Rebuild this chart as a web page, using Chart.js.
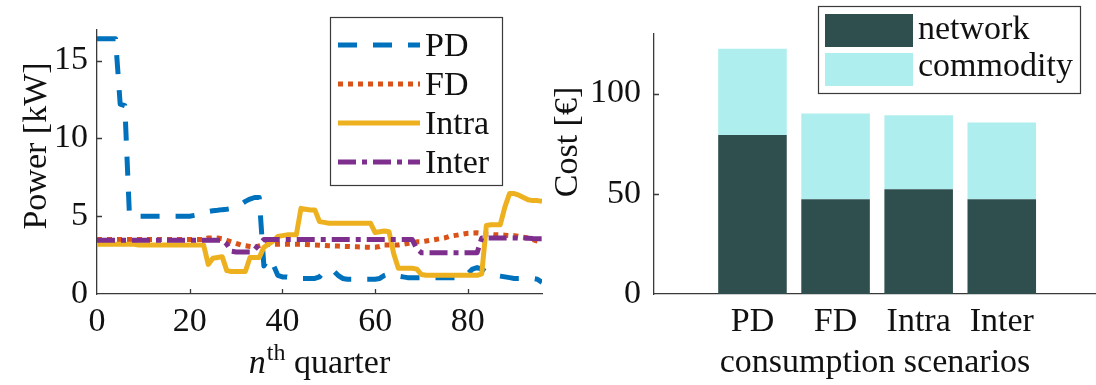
<!DOCTYPE html>
<html><head><meta charset="utf-8">
<script src="https://cdn.jsdelivr.net/npm/chart.js@4.4.1/dist/chart.umd.min.js"></script>
<style>
html,body{margin:0;padding:0;background:#fff;}
#wrap{position:relative;width:1096px;height:385px;overflow:hidden;background:#fff;}
#c1{position:absolute;left:0;top:0;}
#c2{position:absolute;left:530px;top:0;}
</style></head><body>
<div id="wrap"><canvas id="c1" width="560" height="385"></canvas><canvas id="c2" width="566" height="385"></canvas></div>
<script>
// ---------- data ----------
const quarters = [0,1,2,3,4,5,6,7,8,9,10,11,12,13,14,15,16,17,18,19,20,21,22,23,24,25,26,27,28,29,30,31,32,33,34,35,36,37,38,39,40,41,42,43,44,45,46,47,48,49,50,51,52,53,54,55,56,57,58,59,60,61,62,63,64,65,66,67,68,69,70,71,72,73,74,75,76,77,78,79,80,81,82,83,84,85,86,87,88,89,90,91,92,93,94,95,96];
const pdPower = [16.4,16.4,16.4,16.4,16.4,12.2,12.1,5.05,5.0,5.0,5.0,5.0,5.0,5.0,5.0,5.0,5.0,5.0,5.0,5.0,5.0,5.05,5.1,5.2,5.3,5.35,5.38,5.42,5.45,5.5,5.6,5.75,5.95,6.1,6.2,6.2,1.8,2.3,1.9,1.2,1.1,1.1,1.05,1.05,1.0,1.0,1.0,1.0,1.1,1.45,1.5,1.5,1.2,1.0,0.95,0.95,0.95,0.95,0.95,0.95,0.95,1.0,1.2,1.3,1.2,1.15,1.1,1.05,1.05,1.05,1.05,1.05,1.05,1.05,1.05,1.05,1.05,1.05,1.05,1.05,1.3,1.6,1.7,1.6,1.4,1.25,1.2,1.15,1.1,1.05,1.0,1.0,1.0,1.0,1.0,0.95,0.75];
const fdPower = [3.5,3.5,3.5,3.5,3.5,3.5,3.5,3.5,3.5,3.5,3.5,3.5,3.5,3.5,3.5,3.5,3.5,3.5,3.5,3.5,3.5,3.5,3.5,3.5,3.6,3.6,3.6,3.55,3.45,3.35,3.25,3.15,3.1,3.05,3.0,3.1,3.2,3.2,3.2,3.2,3.2,3.2,3.2,3.2,3.2,3.18,3.16,3.15,3.14,3.12,3.1,3.09,3.08,3.06,3.05,3.04,3.03,3.02,3.01,3.0,3.0,3.05,3.15,3.15,3.15,3.15,3.2,3.25,3.3,3.35,3.35,3.4,3.45,3.5,3.55,3.6,3.7,3.75,3.8,3.85,3.9,3.92,3.93,3.9,3.85,3.85,3.8,3.8,3.78,3.76,3.75,3.7,3.65,3.6,3.5,3.4,3.3];
const intraPower = [3.2,3.2,3.2,3.2,3.2,3.2,3.2,3.2,3.2,3.15,3.15,3.15,3.15,3.15,3.15,3.15,3.15,3.15,3.15,3.15,3.15,3.15,3.15,3.15,1.9,2.3,2.35,2.4,1.5,1.45,1.45,1.45,1.45,2.35,2.35,2.35,3.0,3.2,3.4,3.7,3.75,3.8,3.8,3.8,5.5,5.45,5.4,5.4,4.65,4.6,4.55,4.55,4.55,4.55,4.55,4.55,4.55,4.55,4.55,4.55,3.95,4.0,4.05,4.0,2.6,1.65,1.65,1.65,1.65,1.6,1.25,1.2,1.2,1.2,1.2,1.2,1.2,1.2,1.2,1.2,1.2,1.2,1.2,1.3,4.4,4.45,4.45,4.45,5.6,6.45,6.45,6.35,6.2,6.05,6.0,6.0,5.95];
const interPower = [3.45,3.45,3.45,3.45,3.45,3.45,3.45,3.45,3.45,3.45,3.45,3.45,3.45,3.45,3.45,3.45,3.45,3.45,3.45,3.45,3.45,3.45,3.45,3.45,3.45,3.45,3.45,3.45,3.2,2.75,2.7,2.7,2.7,2.7,2.85,3.2,3.5,3.5,3.5,3.5,3.5,3.5,3.5,3.5,3.5,3.5,3.5,3.5,3.5,3.5,3.5,3.5,3.5,3.5,3.5,3.5,3.5,3.5,3.5,3.5,3.5,3.5,3.5,3.5,3.5,3.5,3.5,3.5,3.5,2.9,2.65,2.65,2.65,2.65,2.65,2.65,2.65,2.65,2.65,2.65,2.65,2.65,2.65,3.6,3.6,3.6,3.6,3.6,3.6,3.6,3.6,3.6,3.6,3.58,3.56,3.55,3.55];
const seriesNames = ['PD','FD','Intra','Inter'];
const quarterTicks = [0,20,40,60,80];
const powerTicks = [0,5,10,15];

const scenarios = ['PD','FD','Intra','Inter'];
const networkCost = [79.3,47.3,52.2,47.3];
const commodityCost = [43.0,42.8,37.0,38.3];
const costNames = ['network','commodity'];
const costTicks = [0,50,100];

// ---------- style ----------
const FONT = "'Liberation Serif','Times New Roman',serif";
const FS = 34;
const TXT = '#111';
const AX = '#3a3a3a';
Chart.defaults.font.family = FONT;
Chart.defaults.font.size = FS;
Chart.defaults.color = TXT;

function innerTicks(chart, xVals, yVals, len){
  const ctx = chart.ctx, a = chart.chartArea, xs = chart.scales.x, ys = chart.scales.y;
  ctx.save(); ctx.strokeStyle = AX; ctx.lineWidth = 1.3; ctx.beginPath();
  yVals.forEach(v=>{ const p = Math.round(ys.getPixelForValue(v))+0.5; ctx.moveTo(a.left, p); ctx.lineTo(a.left+len, p); });
  xVals.forEach(v=>{ const p = Math.round(xs.getPixelForValue(v))+0.5; ctx.moveTo(p, a.bottom); ctx.lineTo(p, a.bottom-len); });
  ctx.stroke(); ctx.restore();
}
function rotText(ctx, txt, x, y){
  ctx.save(); ctx.translate(x,y); ctx.rotate(-Math.PI/2);
  ctx.textAlign='center'; ctx.textBaseline='alphabetic'; ctx.fillStyle=TXT; ctx.font=`${FS}px ${FONT}`;
  ctx.fillText(txt,0,0); ctx.restore();
}

// ---------- left chart ----------
const lineStyles = [
  {color:'#0072BD', dash:[19,16]},
  {color:'#D95319', dash:[5,5]},
  {color:'#EDB120', dash:[]},
  {color:'#7E2F8E', dash:[18,6,5,6]}
];
const powerSeries = [pdPower, fdPower, intraPower, interPower];

const decor1 = {id:'decor1', afterDraw(chart){
  const ctx = chart.ctx, a = chart.chartArea;
  innerTicks(chart, quarterTicks.slice(1), powerTicks.slice(1), 5);
  rotText(ctx, 'Power [kW]', 46, 146);
  ctx.save(); ctx.fillStyle = TXT; ctx.textBaseline='alphabetic'; ctx.textAlign='left';
  const fN = `italic ${FS}px ${FONT}`, fS = `${Math.round(FS*0.7)}px ${FONT}`, fR = `${FS}px ${FONT}`;
  ctx.font=fN; const wN = ctx.measureText('n').width;
  ctx.font=fS; const wS = ctx.measureText('th').width;
  ctx.font=fR; const wR = ctx.measureText(' quarter').width;
  const tot = wN+1+wS+wR; let x0 = (a.left+a.right)/2 - tot/2; const by = 373;
  ctx.font=fN; ctx.fillText('n', x0, by);
  ctx.font=fS; ctx.fillText('th', x0+wN+1, by-13);
  ctx.font=fR; ctx.fillText(' quarter', x0+wN+1+wS, by);
  // legend
  const bx=330, byTop=17, bw=172, bh=168;
  ctx.fillStyle='#fff'; ctx.fillRect(bx,byTop,bw,bh);
  ctx.strokeStyle=AX; ctx.lineWidth=1.2; ctx.strokeRect(bx+0.5,byTop+0.5,bw,bh);
  const rows=[45,84,123,162];
  chart.data.datasets.forEach((ds,i)=>{
    const cy=rows[i];
    ctx.beginPath(); ctx.setLineDash(ds.borderDash||[]); ctx.strokeStyle=ds.borderColor; ctx.lineWidth=ds.borderWidth; ctx.lineCap='butt';
    ctx.moveTo(338,cy); ctx.lineTo(420,cy); ctx.stroke(); ctx.setLineDash([]);
    ctx.fillStyle=TXT; ctx.font=fR; ctx.fillText(ds.label, 425, cy+11);
  });
  ctx.restore();
}};

new Chart(document.getElementById('c1'), {
  type:'line',
  data:{
    labels: quarters,
    datasets: seriesNames.map((name,i)=>({
      label:name, data:powerSeries[i], borderColor:lineStyles[i].color, borderDash:lineStyles[i].dash,
      borderWidth:5, pointRadius:0, fill:false, tension:0, borderCapStyle:'butt', borderJoinStyle:'round',
      order: seriesNames.length - i
    }))
  },
  options:{
    responsive:false, animation:false, events:[],
    layout:{padding:{top:17,right:18,left:0,bottom:0}},
    plugins:{legend:{display:false}, tooltip:{enabled:false}},
    scales:{
      x:{type:'linear', min:0, max:96,
        afterBuildTicks:s=>{ s.ticks = quarterTicks.map(v=>({value:v})); },
        afterFit:s=>{ s.height = 91; },
        grid:{display:false, drawTicks:false}, border:{display:true, color:AX, width:1.3},
        ticks:{padding:8, maxRotation:0, autoSkip:false, color:TXT, font:{size:FS}}},
      y:{type:'linear', min:0, max:17,
        afterBuildTicks:s=>{ s.ticks = powerTicks.map(v=>({value:v})); },
        afterFit:s=>{ s.width = 97; },
        grid:{display:false, drawTicks:false}, border:{display:true, color:AX, width:1.3},
        ticks:{padding:9, color:TXT, font:{size:FS}}}
    }
  },
  plugins:[decor1]
});

// ---------- right chart ----------
const barColors = ['#2F4F4F','#AFEEEE'];
const costSeries = [networkCost, commodityCost];

const decor2 = {id:'decor2', afterDraw(chart){
  const ctx = chart.ctx, a = chart.chartArea;
  innerTicks(chart, [], costTicks.slice(1), 5);
  rotText(ctx, 'Cost [€]', 47, 142);
  ctx.save(); ctx.fillStyle=TXT; ctx.font=`${FS}px ${FONT}`; ctx.textAlign='center'; ctx.textBaseline='alphabetic';
  ctx.fillText('consumption scenarios', 345, 372);
  // legend
  const bx=288, by=6, bw=262, bh=87;
  ctx.fillStyle='#fff'; ctx.fillRect(bx,by,bw,bh);
  ctx.strokeStyle=AX; ctx.lineWidth=1.2; ctx.strokeRect(bx+0.5,by+0.5,bw,bh);
  const rows=[{y:14,b:39},{y:53,b:76}];
  chart.data.datasets.forEach((ds,i)=>{
    ctx.fillStyle=ds.backgroundColor; ctx.fillRect(295, rows[i].y, 88, 33);
    ctx.fillStyle=TXT; ctx.textAlign='left'; ctx.fillText(ds.label, 388, rows[i].b);
  });
  ctx.restore();
}};

new Chart(document.getElementById('c2'), {
  type:'bar',
  data:{
    datasets: costNames.map((name,i)=>({
      label:name,
      data: scenarios.map((s,j)=>({x:j+1, y:costSeries[i][j]})),
      backgroundColor:barColors[i], borderWidth:0,
      categoryPercentage:1, barPercentage:0.825
    }))
  },
  options:{
    responsive:false, animation:false, events:[],
    layout:{padding:{top:16,right:0,left:0,bottom:0}},
    plugins:{legend:{display:false}, tooltip:{enabled:false}},
    scales:{
      x:{type:'linear', stacked:true, min:-0.185, max:5.134, offset:false,
        afterBuildTicks:s=>{ s.ticks = scenarios.map((c,j)=>({value:j+1})); },
        afterFit:s=>{ s.height = 91; },
        grid:{display:false, drawTicks:false}, border:{display:true, color:AX, width:1.3},
        ticks:{padding:8, maxRotation:0, autoSkip:false, color:TXT, font:{size:FS},
          callback:v=>scenarios[Math.round(v)-1] ?? ''}},
      y:{type:'linear', stacked:true, min:0, max:130,
        afterBuildTicks:s=>{ s.ticks = costTicks.map(v=>({value:v})); },
        afterFit:s=>{ s.width = 124; },
        grid:{display:false, drawTicks:false}, border:{display:true, color:AX, width:1.3},
        ticks:{padding:13, color:TXT, font:{size:FS}}}
    }
  },
  plugins:[decor2]
});
</script>
</body></html>
